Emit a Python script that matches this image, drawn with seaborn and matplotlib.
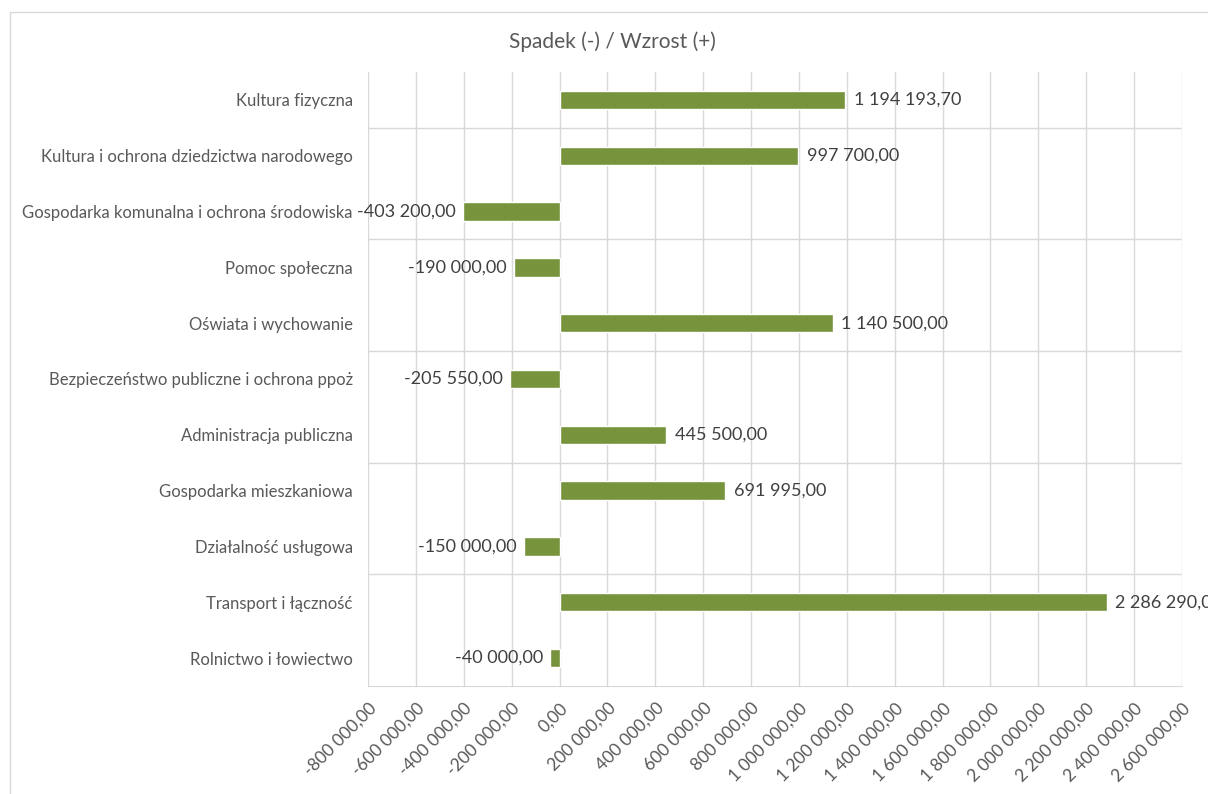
import matplotlib
matplotlib.use('Agg')
import pandas as pd
import seaborn as sns
import matplotlib.pyplot as plt
import matplotlib.ticker as tkr
from matplotlib.patches import Rectangle

# ------------------ DATA ------------------ #
categories = [
    'Kultura fizyczna',
    'Kultura i ochrona dziedzictwa narodowego',
    'Gospodarka komunalna i ochrona środowiska',
    'Pomoc społeczna',
    'Oświata i wychowanie',
    'Bezpieczeństwo publiczne i ochrona ppoż',
    'Administracja publiczna',
    'Gospodarka mieszkaniowa',
    'Działalność usługowa',
    'Transport i łączność',
    'Rolnictwo i łowiectwo',
]
changes = [1194193.70, 997700.00, -403200.00, -190000.00, 1140500.00, -205550.00,
           445500.00, 691995.00, -150000.00, 2286290.00, -40000.00]
x_ticks = list(range(-800000, 2600001, 200000))
chart_title = 'Spadek (-) / Wzrost (+)'

df = pd.DataFrame({'kategoria': categories, 'zmiana': changes})


def pl_fmt(v, p=None):
    """Polish style number: space as thousands sep, comma as decimal."""
    s = f'{v:,.2f}'.replace(',', ' ').replace('.', ',')
    if s.startswith('-0,00'):
        s = '0,00'
    return s


# ------------------ CHART ------------------ #
sns.set_style('white')
plt.rcParams['font.family'] = ['Lato', 'DejaVu Sans']
text_grey = '#595959'
grid_grey = '#D9D9D9'

fig = plt.figure(figsize=(12.08, 7.94), dpi=100)
ax = fig.add_axes([368 / 1208, 1 - 686 / 794, 814 / 1208, 614 / 794])

sns.barplot(data=df, x='zmiana', y='kategoria', orient='h',
            color='#77933C', saturation=1, width=0.33, ax=ax, zorder=3)

ax.set_xlim(-800000, 2600000)
ax.set_ylim(len(categories) - 0.5, -0.5)
ax.set_xticks(x_ticks)
ax.xaxis.set_major_formatter(tkr.FuncFormatter(pl_fmt))
plt.setp(ax.get_xticklabels(), rotation=45, ha='right', rotation_mode='anchor')
ax.tick_params(axis='x', length=0, pad=10, labelsize=12.5, labelcolor=text_grey)
ax.tick_params(axis='y', length=0, pad=11, labelsize=12, labelcolor=text_grey)
ax.set_xlabel('')
ax.set_ylabel('')

# gridlines: vertical at every tick, horizontal every two categories from the bottom
ax.grid(axis='x', color=grid_grey, linewidth=1, zorder=0)
ax.set_yticks([0.5, 2.5, 4.5, 6.5, 8.5], minor=True)
ax.grid(axis='y', which='minor', color=grid_grey, linewidth=1, zorder=0)
ax.grid(axis='y', which='major', visible=False)
ax.tick_params(axis='y', which='minor', length=0)
for name, spine in ax.spines.items():
    spine.set_visible(name == 'bottom')
ax.spines['bottom'].set_color(grid_grey)

# data labels
for i, v in enumerate(changes):
    ax.annotate(pl_fmt(v), xy=(v, i), xytext=(6 if v > 0 else -5, 0),
                textcoords='offset points', ha='left' if v > 0 else 'right',
                va='center', fontsize=13, color='#404040', zorder=4,
                annotation_clip=False)

# title + chart border
fig.text(612 / 1208, 1 - 42 / 794, chart_title, ha='center', va='center',
         fontsize=15, color=text_grey)
fig.patches.append(Rectangle((10 / 1208, -0.05), 1.1, 1 - 12 / 794 + 0.05,
                             transform=fig.transFigure, fill=False,
                             edgecolor=grid_grey, linewidth=1))

fig.savefig('out.png', dpi=100)
